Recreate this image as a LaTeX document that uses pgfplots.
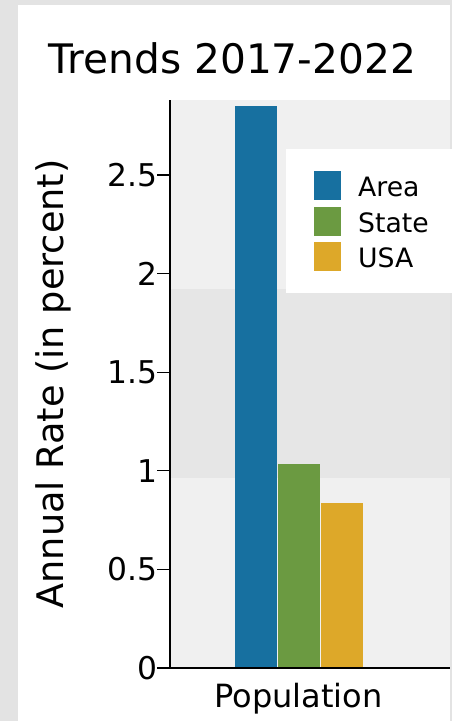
\documentclass[border=0pt]{standalone}
\usepackage{fontspec}
\setmainfont{DejaVu Sans}
\usepackage{pgfplots}
\pgfplotsset{compat=1.18}
\definecolor{areac}{HTML}{1770A0}
\definecolor{statec}{HTML}{6B9A41}
\definecolor{usac}{HTML}{DDA829}
\definecolor{bgout}{HTML}{E3E3E3}
\definecolor{plotbg}{HTML}{F0F0F0}
\definecolor{bandc}{HTML}{E6E6E6}
\begin{document}
\begin{tikzpicture}[x=1pt,y=1pt]
\path[use as bounding box, fill=bgout] (0,0) rectangle (339,540.75);
\fill[white] (13.5,0) rectangle (337.5,537);
\begin{axis}[
  at={(127.5pt,39.75pt)}, anchor=south west,
  scale only axis, width=210pt, height=426pt,
  xmin=0, xmax=1, ymin=0, ymax=2.88,
  axis x line*=bottom, axis y line*=left,
  axis line style={line width=0.9pt, black, -},
  x axis line style={-}, y axis line style={-},
  axis background/.style={fill=plotbg},
  axis on top,
  ytick={0,0.5,1,1.5,2,2.5},
  xtick={0.459}, xticklabels={Population},
  x tick style={draw=none},
  y tick style={line width=0.9pt, black},
  tick align=outside, major tick length=9.5pt,
  /pgf/number format/assume math mode=true,
  yticklabel style={font=\fontsize{23.5}{28}\selectfont, anchor=east, inner sep=0pt},
  xticklabel style={font=\fontsize{24}{28}\selectfont, anchor=north, inner sep=0pt, yshift=-2pt},
  ylabel={Annual Rate (in percent)},
  every axis y label/.style={at={(axis description cs:-0.382,0.5)}, rotate=90, anchor=base, font=\fontsize{27.5}{32}\selectfont},
  title={Trends 2017-2022},
  every axis title/.style={at={(axis description cs:0.223,1.0475)}, anchor=base, font=\fontsize{30.5}{36}\selectfont},
  legend style={at={(axis description cs:0.414,0.9137)}, anchor=north west, fill=white, draw=none,
    inner xsep=21pt, inner ysep=16.5pt, font=\fontsize{20}{24}\selectfont,
    row sep=4.85pt, column sep=0pt, nodes={inner sep=0pt}},
  legend cell align=left,
]
\addplot[fill=bandc, draw=none, forget plot] coordinates {(0,0.965) (1,0.965) (1,1.924) (0,1.924)} -- cycle;
\addplot[ybar, bar width=31.5pt, bar shift=-32.25pt, fill=areac, draw=none,
  legend image code/.code={\fill[areac] (0pt,-9.4pt) rectangle (20.25pt,12.35pt); \path (33pt,0pt);}]
  coordinates {(0.459,2.85)};
\addlegendentry{Area}
\addplot[ybar, bar width=31.5pt, bar shift=0pt, fill=statec, draw=none,
  legend image code/.code={\fill[statec] (0pt,-9.4pt) rectangle (20.25pt,12.35pt); \path (33pt,0pt);}]
  coordinates {(0.459,1.035)};
\addlegendentry{State}
\addplot[ybar, bar width=31.5pt, bar shift=32.25pt, fill=usac, draw=none,
  legend image code/.code={\fill[usac] (0pt,-9.4pt) rectangle (20.25pt,12.35pt); \path (33pt,0pt);}]
  coordinates {(0.459,0.836)};
\addlegendentry{USA}
\end{axis}
\end{tikzpicture}
\end{document}
